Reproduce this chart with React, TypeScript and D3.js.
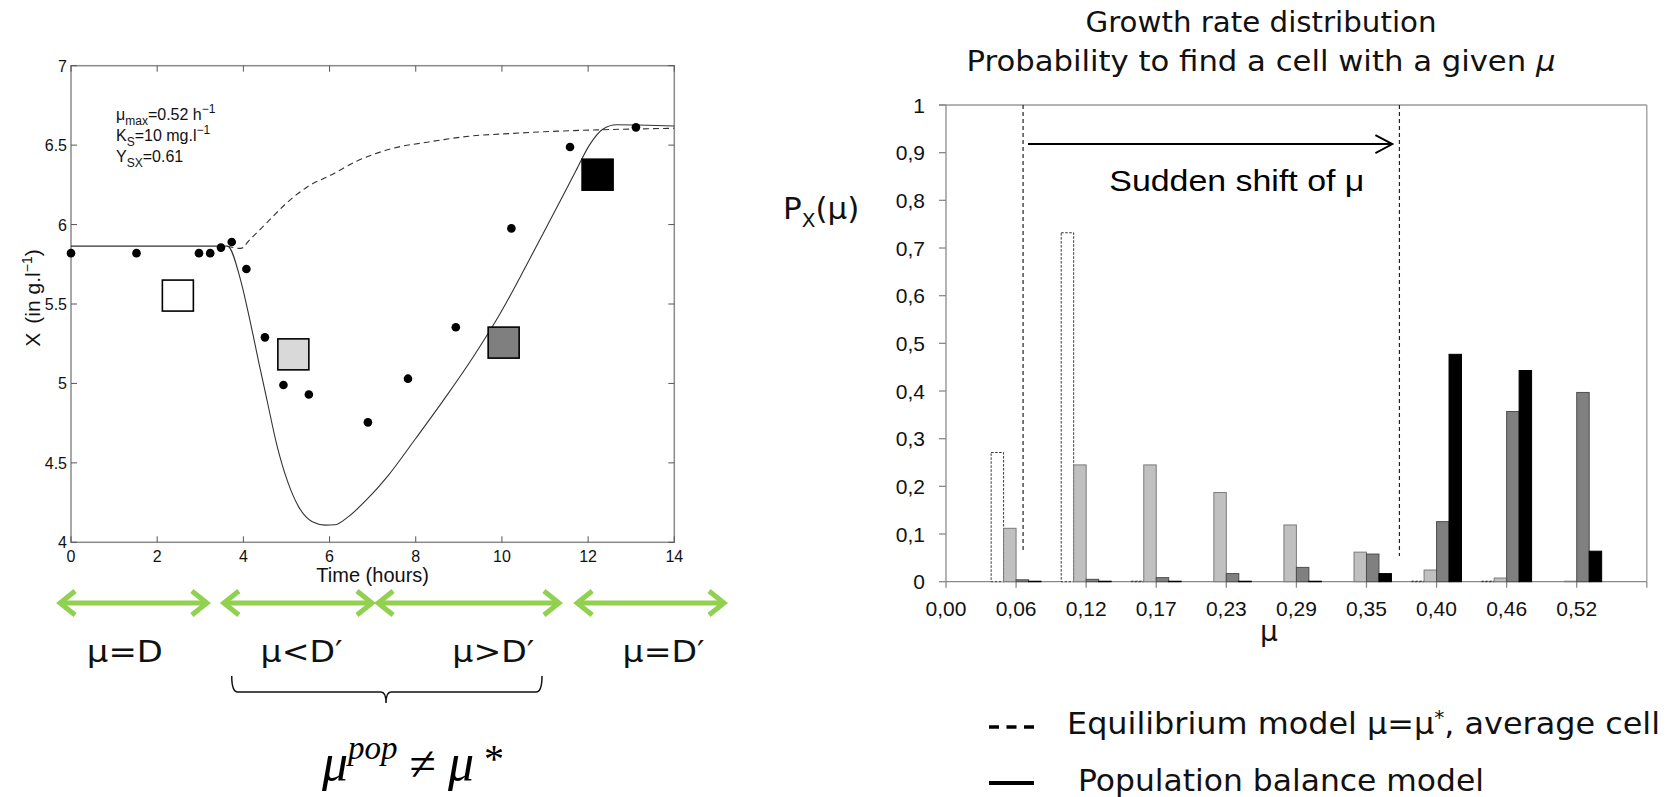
import React from "react";
import * as d3 from "d3";

// ---------- Left chart data ----------
const timeTicks = [0, 2, 4, 6, 8, 10, 12, 14];
const biomassTicks = [4, 4.5, 5, 5.5, 6, 6.5, 7];
const obsTime = [0, 1.52, 2.97, 3.23, 3.48, 3.73, 4.07, 4.5, 4.93, 5.52, 6.89, 7.82, 8.93, 10.22, 11.58, 13.11];
const obsX = [5.82, 5.82, 5.82, 5.82, 5.855, 5.89, 5.72, 5.29, 4.99, 4.93, 4.755, 5.03, 5.354, 5.976, 6.488, 6.612];
const popTime = [0, 3.63, 3.94, 4.15, 4.36, 4.56, 4.77, 5.03, 5.29, 5.6, 5.91, 6.12, 6.43, 6.85, 7.36, 7.99, 8.71, 9.34, 9.96, 10.58, 11.2, 11.72, 12.03, 12.34, 12.66, 14];
const popX = [5.864, 5.864, 5.646, 5.4, 5.13, 4.88, 4.62, 4.38, 4.22, 4.13, 4.108, 4.11, 4.16, 4.265, 4.42, 4.65, 4.92, 5.17, 5.44, 5.75, 6.07, 6.34, 6.5, 6.6, 6.628, 6.62];
const eqTime = [3.63, 3.94, 4.15, 4.56, 4.98, 5.5, 6.02, 6.64, 7.47, 8.3, 9.23, 10.27, 11.3, 12.34, 14];
const eqX = [5.864, 5.85, 5.905, 6.016, 6.13, 6.24, 6.31, 6.4, 6.48, 6.52, 6.556, 6.574, 6.588, 6.597, 6.606];
const markerTime = [2.48, 5.16, 10.04, 12.22];
const markerX = [5.553, 5.183, 5.257, 6.314];
const markerFill = ["#ffffff", "#d9d9d9", "#7f7f7f", "#000000"];
const phaseStart = [-0.3, 3.5, 7.08, 11.7];
const phaseEnd = [3.2, 7.03, 11.37, 15.2];
const phaseLabel = ["μ=D", "μ<D′", "μ>D′", "μ=D′"];
const phaseLabelTime = [1.25, 5.35, 9.8, 13.75];
const phaseLabelWidth = [76, 82, 82, 82];
const braceStart = 3.73, braceEnd = 10.93, braceTip = 7.31;

// ---------- Right chart data ----------
const muCategories = ["0,00", "0,06", "0,12", "0,17", "0,23", "0,29", "0,35", "0,40", "0,46", "0,52"];
const equilibrium = [0, 0.271, 0.732, 0.001, 0, 0, 0, 0.001, 0.001, 0];
const popT1 = [0, 0.112, 0.245, 0.245, 0.187, 0.119, 0.062, 0.0245, 0.0077, 0.001];
const popT2 = [0, 0.004, 0.005, 0.0085, 0.017, 0.03, 0.058, 0.126, 0.357, 0.397];
const popT3 = [0, 0.001, 0.001, 0.001, 0.001, 0.001, 0.017, 0.477, 0.443, 0.064];
const probTicks = [0, 0.1, 0.2, 0.3, 0.4, 0.5, 0.6, 0.7, 0.8, 0.9, 1];
const shiftLinePos = [1.1, 6.47];
const shiftLineBottom = [0.062, 0.054];
const shiftArrow = { from: 1.17, to: 6.37, p: 0.918 };

const sansL = "'Liberation Sans', Arial, Helvetica, sans-serif";
const sansV = "'DejaVu Sans', Verdana, sans-serif";

export default function App() {
  // Left scales
  const xL = d3.scaleLinear().domain([0, 14]).range([71, 674.3]);
  const yL = d3.scaleLinear().domain([4, 7]).range([542.3, 65.7]);
  const lineL = d3
    .line<[number, number]>()
    .x((d) => xL(d[0]))
    .y((d) => yL(d[1]))
    .curve(d3.curveMonotoneX);
  const popPath = lineL(popTime.map((t, i) => [t, popX[i]]) as [number, number][]) || "";
  const eqPath = lineL(eqTime.map((t, i) => [t, eqX[i]]) as [number, number][]) || "";

  // Right scales
  const xR = d3.scaleLinear().domain([0, 10]).range([946, 1646.8]);
  const yR = d3.scaleLinear().domain([0, 1]).range([581.7, 105]);
  const step = xR(1) - xR(0);
  const bw = step * 0.178;
  const series = [equilibrium, popT1, popT2, popT3];
  const seriesFill = ["#ffffff", "#c0c0c0", "#808080", "#000000"];
  const seriesStroke = ["#333333", "#7a7a7a", "#4d4d4d", "#000000"];
  const fmtP = (v: number) => (v === 0 || v === 1 ? String(v) : d3.format(".1f")(v).replace(".", ","));

  const tickLen = 6;
  const arrowY = 603;
  const green = "#92d050";

  const L = xL.range();
  const T = yL.range();

  return (
    <svg
      width={1668}
      height={797}
      style={{ position: "absolute", left: 0, top: 0, display: "block", background: "#fff" }}
    >
      {/* ================= LEFT CHART ================= */}
      <g>
        <rect x={L[0]} y={T[1]} width={L[1] - L[0]} height={T[0] - T[1]} fill="none" stroke="#8a8a8a" strokeWidth={1.5} />
        {timeTicks.map((t) => (
          <g key={"xt" + t}>
            <line x1={xL(t)} x2={xL(t)} y1={T[0]} y2={T[0] - tickLen} stroke="#555" />
            <line x1={xL(t)} x2={xL(t)} y1={T[1]} y2={T[1] + tickLen} stroke="#555" />
            <text x={xL(t)} y={T[0] + 20} textAnchor="middle" fontFamily={sansL} fontSize={16} fill="#111">
              {t}
            </text>
          </g>
        ))}
        {biomassTicks.map((v) => (
          <g key={"yt" + v}>
            <line x1={L[0]} x2={L[0] + tickLen} y1={yL(v)} y2={yL(v)} stroke="#555" />
            <line x1={L[1]} x2={L[1] - tickLen} y1={yL(v)} y2={yL(v)} stroke="#555" />
            <text x={L[0] - 4} y={yL(v) + 6} textAnchor="end" fontFamily={sansL} fontSize={16} fill="#111">
              {v}
            </text>
          </g>
        ))}
        <text x={(L[0] + L[1]) / 2} y={582} textAnchor="middle" fontFamily={sansL} fontSize={20} fill="#111">
          Time (hours)
        </text>
        <text transform="translate(40,298) rotate(-90)" textAnchor="middle" fontFamily={sansL} fontSize={21} fill="#111">
          X<tspan dx={9}>(in g.l</tspan>
          <tspan dy={-8} fontSize={14}>−1</tspan>
          <tspan dy={8}>)</tspan>
        </text>
        {/* parameters */}
        <g fontFamily={sansL} fontSize={16} fill="#111">
          <text x={116} y={120}>
            μ<tspan dy={5} fontSize={12}>max</tspan>
            <tspan dy={-5}>=0.52 h</tspan>
            <tspan dy={-7} fontSize={12}>−1</tspan>
          </text>
          <text x={116} y={141}>
            K<tspan dy={5} fontSize={12}>S</tspan>
            <tspan dy={-5}>=10 mg.l</tspan>
            <tspan dy={-7} fontSize={12}>−1</tspan>
          </text>
          <text x={116} y={162}>
            Y<tspan dy={5} fontSize={12}>SX</tspan>
            <tspan dy={-5}>=0.61</tspan>
          </text>
        </g>
        <path d={eqPath} fill="none" stroke="#333" strokeWidth={1.1} strokeDasharray="6,4" />
        <path d={popPath} fill="none" stroke="#333" strokeWidth={1.1} />
        {obsTime.map((t, i) => (
          <circle key={"o" + i} cx={xL(t)} cy={yL(obsX[i])} r={4.3} fill="#000" />
        ))}
        {markerTime.map((t, i) => (
          <rect
            key={"m" + i}
            x={xL(t) - 15.5}
            y={yL(markerX[i]) - 15.5}
            width={31}
            height={31}
            fill={markerFill[i]}
            stroke="#000"
            strokeWidth={1.6}
          />
        ))}
      </g>

      {/* green double arrows */}
      <g stroke={green} strokeWidth={5} fill="none" strokeLinejoin="miter">
        {phaseStart.map((s, i) => {
          const a = xL(s) + 2;
          const b = xL(phaseEnd[i]) - 2;
          return (
            <g key={"ga" + i}>
              <line x1={a} x2={b} y1={arrowY} y2={arrowY} />
              <path d={`M${a + 15},${arrowY - 12} L${a},${arrowY} L${a + 15},${arrowY + 12}`} />
              <path d={`M${b - 15},${arrowY - 12} L${b},${arrowY} L${b - 15},${arrowY + 12}`} />
            </g>
          );
        })}
      </g>
      {phaseLabel.map((lab, i) => (
        <text
          key={"pl" + i}
          x={xL(phaseLabelTime[i])}
          y={662}
          textAnchor="middle"
          fontFamily={sansV}
          fontSize={31}
          fill="#111"
          textLength={phaseLabelWidth[i]}
          lengthAdjust="spacingAndGlyphs"
        >
          {lab}
        </text>
      ))}
      <path
        d={`M${xL(braceStart)},676 Q${xL(braceStart)},692 ${xL(braceStart) + 6},692 L${xL(braceTip) - 5},692 Q${xL(braceTip)},692 ${xL(braceTip)},703 Q${xL(braceTip)},692 ${xL(braceTip) + 5},692 L${xL(braceEnd) - 6},692 Q${xL(braceEnd)},692 ${xL(braceEnd)},676`}
        fill="none"
        stroke="#111"
        strokeWidth={1.5}
      />
      <text x={322} y={780} fontFamily="'Liberation Serif', 'Times New Roman', serif" fontStyle="italic" fontSize={52} fill="#000">
        μ<tspan dy={-21} fontSize={33}>pop</tspan>
        <tspan dy={21} fontStyle="normal" fontSize={48}> ≠ </tspan>μ
        <tspan fontStyle="normal" fontSize={40} dy={-8}> *</tspan>
      </text>

      {/* ================= RIGHT CHART ================= */}
      <text x={1261} y={32} textAnchor="middle" fontFamily={sansV} fontSize={29} fill="#111" textLength={351} lengthAdjust="spacingAndGlyphs">
        Growth rate distribution
      </text>
      <text x={1261} y={71} textAnchor="middle" fontFamily={sansV} fontSize={29} fill="#111" textLength={589} lengthAdjust="spacingAndGlyphs">
        Probability to find a cell with a given <tspan fontStyle="italic">μ</tspan>
      </text>
      <text x={783} y={219} fontFamily={sansV} fontSize={31} fill="#111">
        P<tspan dy={8} fontSize={20}>X</tspan>
        <tspan dy={-8}>(μ)</tspan>
      </text>

      <line x1={xR(0) - 7} x2={xR(10)} y1={yR(1)} y2={yR(1)} stroke="#9a9a9a" strokeWidth={1.3} />
      <line x1={xR(10)} x2={xR(10)} y1={yR(1)} y2={yR(0)} stroke="#9a9a9a" strokeWidth={1.3} />
      <line x1={xR(0)} x2={xR(0)} y1={yR(1)} y2={yR(0)} stroke="#8a8a8a" strokeWidth={1.3} />
      <line x1={xR(0)} x2={xR(10)} y1={yR(0)} y2={yR(0)} stroke="#8a8a8a" strokeWidth={1.3} />
      {probTicks.map((v) => (
        <g key={"pt" + v}>
          <line x1={xR(0) - 7} x2={xR(0)} y1={yR(v)} y2={yR(v)} stroke="#8a8a8a" strokeWidth={1.3} />
          <text x={925} y={yR(v) + 7.5} textAnchor="end" fontFamily={sansL} fontSize={21} fill="#111">
            {fmtP(v)}
          </text>
        </g>
      ))}
      {d3.range(0, 11).map((i) => (
        <line key={"ct" + i} x1={xR(i)} x2={xR(i)} y1={yR(0)} y2={yR(0) + 6} stroke="#8a8a8a" strokeWidth={1.3} />
      ))}
      {muCategories.map((c, i) => (
        <text key={"cl" + i} x={xR(i)} y={yR(0) + 34} textAnchor="middle" fontFamily={sansL} fontSize={21} fill="#111">
          {c}
        </text>
      ))}
      <text x={1269} y={641} textAnchor="middle" fontFamily={sansV} fontSize={28} fill="#111">
        μ
      </text>

      {series.map((vals, s) =>
        vals.map((v, i) =>
          v > 0 ? (
            <rect
              key={`b${s}-${i}`}
              x={xR(i) + (s - 2) * bw}
              y={yR(v)}
              width={bw}
              height={Math.max(yR(0) - yR(v), 0.5)}
              fill={seriesFill[s]}
              stroke={seriesStroke[s]}
              strokeWidth={1}
              strokeDasharray={s === 0 ? "2.5,1.5" : undefined}
            />
          ) : null
        )
      )}

      {shiftLinePos.map((p, i) => (
        <line
          key={"sl" + i}
          x1={xR(p)}
          x2={xR(p)}
          y1={yR(1)}
          y2={yR(shiftLineBottom[i])}
          stroke="#222"
          strokeWidth={1.2}
          strokeDasharray="4,3"
        />
      ))}
      <line x1={xR(shiftArrow.from)} x2={xR(shiftArrow.to)} y1={yR(shiftArrow.p)} y2={yR(shiftArrow.p)} stroke="#000" strokeWidth={2} />
      <path
        d={`M${xR(shiftArrow.to) - 17},${yR(shiftArrow.p) - 9} L${xR(shiftArrow.to)},${yR(shiftArrow.p)} L${xR(shiftArrow.to) - 17},${yR(shiftArrow.p) + 9}`}
        fill="none"
        stroke="#000"
        strokeWidth={1.8}
      />
      <text x={xR(4.15)} y={yR(0.82)} textAnchor="middle" fontFamily={sansL} fontSize={30} fill="#000" textLength={255} lengthAdjust="spacingAndGlyphs">
        Sudden shift of μ
      </text>

      <line x1={989} x2={1034} y1={727} y2={727} stroke="#000" strokeWidth={3.5} strokeDasharray="10,7.5" />
      <text x={1067} y={734} fontFamily={sansV} fontSize={30} fill="#111" textLength={593} lengthAdjust="spacingAndGlyphs">
        Equilibrium model μ=μ<tspan dy={-10} fontSize={19}>*</tspan>
        <tspan dy={10}>, average cell</tspan>
      </text>
      <line x1={989} x2={1034} y1={783} y2={783} stroke="#000" strokeWidth={4} />
      <text x={1078} y={791} fontFamily={sansV} fontSize={30} fill="#111" textLength={406} lengthAdjust="spacingAndGlyphs">
        Population balance model
      </text>
    </svg>
  );
}
